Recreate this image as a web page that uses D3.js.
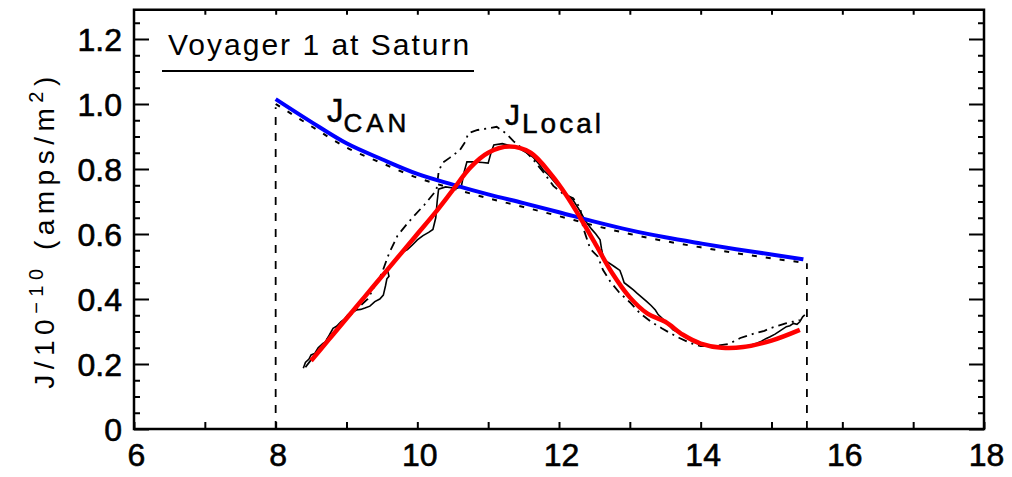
<!DOCTYPE html>
<html>
<head>
<meta charset="utf-8">
<script src="https://cdn.jsdelivr.net/npm/d3@7"></script>
<style>
  html, body { margin: 0; padding: 0; background: #fff; }
  svg { display: block; font-family: "Liberation Sans", Arial, Helvetica, sans-serif; }
</style>
</head>
<body>
<svg id="chart" width="1012" height="477"></svg>
<script>
// Axis ticks
const xTickValues = [6, 8, 10, 12, 14, 16, 18];
const xMinorValues = [7, 9, 11, 13, 15, 17];
const yTickValues = [0, 0.2, 0.4, 0.6, 0.8, 1.0, 1.2];
const yTickLabels = ["0", "0.2", "0.4", "0.6", "0.8", "1.0", "1.2"];
const yMinorValues = [0.05, 0.1, 0.15, 0.25, 0.3, 0.35, 0.45, 0.5, 0.55, 0.65, 0.7, 0.75,
                      0.85, 0.9, 0.95, 1.05, 1.1, 1.15, 1.25];

// J_CAN model (blue) and the observed values along it (dashed)
const canX   = [8.0, 8.5, 9.0, 9.5, 10.0, 10.5, 11.0, 11.5, 12.0, 12.5, 13.0, 13.5, 14.0, 14.5, 15.0, 15.45];
const canY   = [1.015, 0.945, 0.879, 0.830, 0.785, 0.752, 0.722, 0.695, 0.667, 0.638, 0.612, 0.590, 0.571, 0.553, 0.537, 0.522];
const canObs = [1.000, 0.932, 0.866, 0.818, 0.773, 0.740, 0.710, 0.683, 0.655, 0.626, 0.600, 0.578, 0.559, 0.541, 0.525, 0.512];

// J_Local fit (red)
const localX = [8.5, 8.75, 9.0, 9.25, 9.5, 9.75, 10.0, 10.25, 10.5, 10.75, 11.0, 11.3, 11.6, 11.9, 12.1, 12.3, 12.5, 12.75,
                13.0, 13.25, 13.5, 13.75, 14.0, 14.3, 14.6, 15.0, 15.4];
const localY = [0.21, 0.275, 0.34, 0.405, 0.47, 0.535, 0.60, 0.665, 0.735, 0.805, 0.85, 0.869, 0.85, 0.78, 0.72, 0.65, 0.575, 0.48,
                0.405, 0.355, 0.33, 0.29, 0.263, 0.25, 0.252, 0.272, 0.305];

// Measured current, solid trace
const solidX = [8.39, 8.42, 8.47, 8.50, 8.55, 8.60, 8.66, 8.70, 8.76, 8.81, 8.86, 8.92, 8.97, 9.02, 9.08,
                9.14, 9.20, 9.26, 9.33, 9.40, 9.47, 9.52, 9.55, 9.57, 9.60, 9.58, 9.62, 9.68, 9.74, 9.80,
                9.86, 9.93, 10.00, 10.08, 10.16, 10.22, 10.26, 10.28, 10.30, 10.40, 10.55, 10.62, 10.66, 10.70, 10.80,
                10.92, 11.00, 11.04, 11.08, 11.20, 11.30, 11.40, 11.50, 11.58, 11.64, 11.72, 11.78, 11.86, 11.92, 11.97,
                12.05, 12.12, 12.20, 12.27, 12.32, 12.36, 12.40, 12.46, 12.52, 12.58, 12.60, 12.63, 12.70, 12.78, 12.86,
                12.89, 12.92, 12.98, 13.05, 13.10, 13.17, 13.24, 13.30, 13.36, 13.40, 13.46, 13.54, 13.61, 13.68, 13.76,
                13.85, 13.94, 14.04, 14.13, 14.25, 14.40, 14.55, 14.70, 14.79, 14.86, 14.92, 14.98, 15.05, 15.12, 15.21,
                15.26, 15.31, 15.36, 15.40, 15.44, 15.47];
const solidY = [0.187, 0.205, 0.215, 0.228, 0.232, 0.250, 0.262, 0.268, 0.290, 0.310, 0.316, 0.330, 0.338, 0.352, 0.358,
                0.366, 0.368, 0.372, 0.378, 0.392, 0.400, 0.412, 0.440, 0.462, 0.470, 0.488, 0.500, 0.515, 0.530, 0.545,
                0.552, 0.566, 0.582, 0.595, 0.605, 0.614, 0.650, 0.700, 0.738, 0.745, 0.740, 0.745, 0.790, 0.822, 0.822,
                0.820, 0.818, 0.850, 0.874, 0.878, 0.872, 0.868, 0.855, 0.845, 0.835, 0.815, 0.796, 0.780, 0.765, 0.752,
                0.735, 0.720, 0.704, 0.680, 0.662, 0.645, 0.632, 0.615, 0.600, 0.582, 0.555, 0.522, 0.512, 0.500, 0.488,
                0.470, 0.450, 0.440, 0.428, 0.418, 0.405, 0.392, 0.380, 0.366, 0.352, 0.340, 0.322, 0.305, 0.298, 0.285,
                0.274, 0.264, 0.257, 0.253, 0.250, 0.248, 0.252, 0.258, 0.264, 0.270, 0.278, 0.284, 0.292, 0.302, 0.315,
                0.318, 0.325, 0.322, 0.330, 0.345, 0.351];

// Measured current, dash-dot trace
const dashX = [8.42, 8.7, 9.0, 9.3, 9.5, 9.6, 9.72, 9.85, 9.95, 10.1, 10.27, 10.30, 10.35, 10.46, 10.6,
               10.68, 10.72, 10.85, 11.0, 11.12, 11.25, 11.36, 11.5, 11.64, 11.78, 11.92, 12.05, 12.2, 12.3, 12.34,
               12.44, 12.55, 12.62, 12.72, 12.85, 13.0, 13.14, 13.3, 13.45, 13.57, 13.7, 13.85, 14.0, 14.2, 14.4,
               14.56, 14.7, 14.79, 14.9, 14.98, 15.1, 15.2, 15.3, 15.4];
const dashY = [0.19, 0.27, 0.34, 0.40, 0.48, 0.54, 0.595, 0.63, 0.655, 0.69, 0.735, 0.79, 0.818, 0.835, 0.858,
               0.885, 0.91, 0.92, 0.925, 0.93, 0.91, 0.885, 0.86, 0.828, 0.79, 0.748, 0.725, 0.71, 0.68, 0.62,
               0.555, 0.53, 0.49, 0.455, 0.42, 0.39, 0.357, 0.33, 0.31, 0.295, 0.28, 0.265, 0.255, 0.255, 0.262,
               0.28, 0.29, 0.296, 0.302, 0.31, 0.318, 0.325, 0.33, 0.335];

// Orbit-segment boundaries (vertical dashed lines)
const boundaryX = [8.0, 15.5];
const boundaryTop = [0.99, 0.51];

const titleText = "Voyager 1 at Saturn";

const svg = d3.select("#chart");
const x = d3.scaleLinear().domain([6, 18]).range([134, 984]);
const y = d3.scaleLinear().domain([0, 1.2]).range([429, 39]);
const yTop = 1.29;

const fontMain = '"Liberation Sans", Arial, Helvetica, sans-serif';

// Plot frame
svg.append("rect")
  .attr("x", x(6)).attr("y", y(yTop))
  .attr("width", x(18) - x(6)).attr("height", y(0) - y(yTop))
  .attr("fill", "none").attr("stroke", "#000").attr("stroke-width", 2.5);

function styleAxis(g) {
  g.select(".domain").remove();
  g.selectAll(".tick line").attr("stroke", "#000").attr("stroke-width", 2);
  g.selectAll(".tick text")
    .attr("fill", "#000")
    .attr("stroke", "#000").attr("stroke-width", 0.6)
    .style("font-family", fontMain).style("font-size", "32px");
}

// Left axis: major ticks with labels, minor ticks
svg.append("g").attr("transform", `translate(${x(6)},0)`)
  .call(d3.axisLeft(y).tickValues(yTickValues).tickSize(-15).tickPadding(12)
    .tickFormat((d, i) => yTickLabels[i]))
  .call(styleAxis)
  .call(g => g.selectAll(".tick text").attr("dy", "0.36em"));
svg.append("g").attr("transform", `translate(${x(6)},0)`)
  .call(d3.axisLeft(y).tickValues(yMinorValues).tickSize(-6).tickFormat(""))
  .call(styleAxis);

// Right axis ticks (no labels)
svg.append("g").attr("transform", `translate(${x(18)},0)`)
  .call(d3.axisRight(y).tickValues(yTickValues).tickSize(-15).tickFormat(""))
  .call(styleAxis);
svg.append("g").attr("transform", `translate(${x(18)},0)`)
  .call(d3.axisRight(y).tickValues(yMinorValues).tickSize(-6).tickFormat(""))
  .call(styleAxis);

// Bottom axis with labels; every unit gets an inward tick
svg.append("g").attr("transform", `translate(0,${y(0)})`)
  .call(d3.axisBottom(x).tickValues(xTickValues).tickSize(-7).tickPadding(14).tickFormat(d3.format("d")))
  .call(styleAxis)
  .call(g => g.selectAll(".tick text").attr("dx", 2).attr("dy", "0.71em"));
svg.append("g").attr("transform", `translate(0,${y(0)})`)
  .call(d3.axisBottom(x).tickValues(xMinorValues).tickSize(-7).tickFormat(""))
  .call(styleAxis);

// Top axis ticks
svg.append("g").attr("transform", `translate(0,${y(yTop)})`)
  .call(d3.axisTop(x).tickValues(d3.range(7, 18)).tickSize(-5).tickFormat(""))
  .call(styleAxis);

// Y axis title
const yTitle = svg.append("text")
  .attr("transform", "translate(54,230) rotate(-90)")
  .attr("text-anchor", "middle")
  .style("font-family", fontMain).style("font-size", "28px")
  .style("letter-spacing", "5.5px")
  .attr("fill", "#000");
yTitle.append("tspan").text("J/10");
yTitle.append("tspan").attr("dy", -11).style("font-size", "20px").text("\u221210");
yTitle.append("tspan").attr("dy", 11).text(" (amps/m");
yTitle.append("tspan").attr("dy", -11).style("font-size", "20px").text("2");
yTitle.append("tspan").attr("dy", 11).text(")");

// Title with underline
svg.append("text")
  .attr("x", 168).attr("y", 55)
  .style("font-family", fontMain).style("font-size", "30px")
  .style("letter-spacing", "2px")
  .attr("fill", "#000")
  .text(titleText);
svg.append("line")
  .attr("x1", 162).attr("x2", 474).attr("y1", 71).attr("y2", 71)
  .attr("stroke", "#000").attr("stroke-width", 2);

// Boundary dashed verticals
svg.append("g").selectAll("line").data(boundaryX).join("line")
  .attr("x1", d => x(d)).attr("x2", d => x(d))
  .attr("y1", y(0)).attr("y2", (d, i) => y(boundaryTop[i]))
  .attr("stroke", "#000").attr("stroke-width", 1.8)
  .attr("stroke-dasharray", "8,8");

const zip = (a, b) => a.map((v, i) => [v, b[i]]);

// Observed values along the J_CAN curve
svg.append("path")
  .datum(zip(canX, canObs))
  .attr("d", d3.line().x(d => x(d[0])).y(d => y(d[1])).curve(d3.curveMonotoneX))
  .attr("fill", "none").attr("stroke", "#000").attr("stroke-width", 2)
  .attr("stroke-dasharray", "5,9");

// Dash-dot measured trace
svg.append("path")
  .datum(zip(dashX, dashY))
  .attr("d", d3.line().x(d => x(d[0])).y(d => y(d[1])))
  .attr("fill", "none").attr("stroke", "#000").attr("stroke-width", 1.8)
  .attr("stroke-dasharray", "9,5,2,5");

// Solid measured trace
svg.append("path")
  .datum(zip(solidX, solidY))
  .attr("d", d3.line().x(d => x(d[0])).y(d => y(d[1])))
  .attr("fill", "none").attr("stroke", "#000").attr("stroke-width", 1.6);

// J_CAN model
svg.append("path")
  .datum(zip(canX, canY))
  .attr("d", d3.line().x(d => x(d[0])).y(d => y(d[1])).curve(d3.curveMonotoneX))
  .attr("fill", "none").attr("stroke", "#0000ff").attr("stroke-width", 4);

// J_Local fit
svg.append("path")
  .datum(zip(localX, localY))
  .attr("d", d3.line().x(d => x(d[0])).y(d => y(d[1])).curve(d3.curveCatmullRom.alpha(0.5)))
  .attr("fill", "none").attr("stroke", "#ff0000").attr("stroke-width", 4.5);

// Curve labels
const canLabel = svg.append("text")
  .attr("x", 327).attr("y", 122)
  .style("font-family", fontMain).style("font-size", "33px").attr("fill", "#000")
  .attr("stroke", "#000").attr("stroke-width", 0.5);
canLabel.append("tspan").text("J");
canLabel.append("tspan").attr("dy", 10).style("font-size", "26px").style("letter-spacing", "4px").text("CAN");

const localLabel = svg.append("text")
  .attr("x", 505).attr("y", 125)
  .style("font-family", fontMain).style("font-size", "30px").attr("fill", "#000")
  .attr("stroke", "#000").attr("stroke-width", 0.5);
localLabel.append("tspan").text("J");
localLabel.append("tspan").attr("dy", 8).attr("dx", 2).style("font-size", "28px").style("letter-spacing", "3px").text("Local");
</script>
</body>
</html>
